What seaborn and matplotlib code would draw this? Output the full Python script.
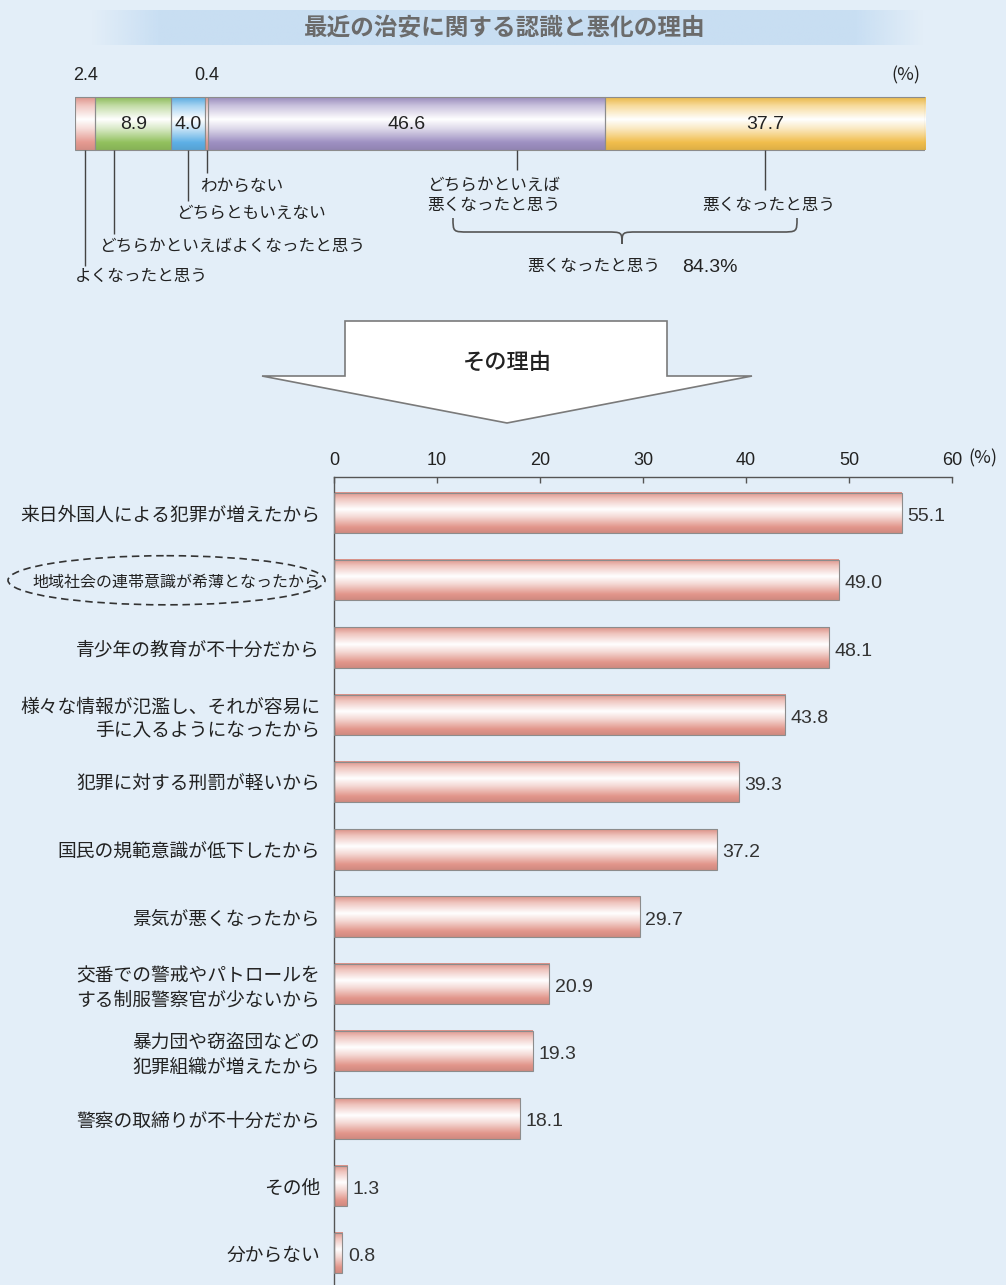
import numpy as np
import matplotlib
matplotlib.use("Agg")
import matplotlib.pyplot as plt
from matplotlib.colors import to_rgb
from matplotlib.patches import Ellipse, Polygon, PathPatch
from matplotlib.path import Path
import seaborn as sns

# ---- data -------------------------------------------------------------
perception_labels = [
    "よくなったと思う",
    "どちらかといえばよくなったと思う",
    "どちらともいえない",
    "わからない",
    "どちらかといえば\n悪くなったと思う",
    "悪くなったと思う",
]
perception_values = [2.4, 8.9, 4.0, 0.4, 46.6, 37.7]
perception_colors = ["#e59a91", "#92c15e", "#5eb0e6", "#e59a91", "#9e90c2", "#f1be4c"]
worse_group = [4, 5]  # segments summed under the brace
worse_group_label = "悪くなったと思う"

reason_labels = [
    "来日外国人による犯罪が増えたから",
    "地域社会の連帯意識が希薄となったから",
    "青少年の教育が不十分だから",
    "様々な情報が氾濫し、それが容易に\n手に入るようになったから",
    "犯罪に対する刑罰が軽いから",
    "国民の規範意識が低下したから",
    "景気が悪くなったから",
    "交番での警戒やパトロールを\nする制服警察官が少ないから",
    "暴力団や窃盗団などの\n犯罪組織が増えたから",
    "警察の取締りが不十分だから",
    "その他",
    "分からない",
]
reason_values = [55.1, 49.0, 48.1, 43.8, 39.3, 37.2, 29.7, 20.9, 19.3, 18.1, 1.3, 0.8]
highlight_index = 1
x_ticks = [0, 10, 20, 30, 40, 50, 60]

title_text = "最近の治安に関する認識と悪化の理由"
arrow_text = "その理由"

# ---- style ------------------------------------------------------------
sns.set_theme(style="white")
plt.rcParams["font.family"] = ["Noto Sans CJK JP", "DejaVu Sans"]
BG = "#e3eef8"
TXT = "#222222"
NUM_FONT = ["Liberation Sans", "DejaVu Sans"]

W, H = 1006, 1285
fig = plt.figure(figsize=(W / 100, H / 100), dpi=100, facecolor=BG)


def gloss(ax, x0, x1, y_top, y_bot, base, zorder=2):
    """Fill a rectangle with a glossy band: colour at the edges, white near the middle."""
    c = np.array(to_rgb(base))
    w = np.ones(3)
    stops = [
        (0.00, c * 0.97),
        (0.16, 0.55 * c + 0.45 * w),
        (0.42, w),
        (0.60, 0.65 * w + 0.35 * c),
        (0.86, c),
        (1.00, c * 0.92),
    ]
    t = np.linspace(0, 1, 80)
    pos = [s for s, _ in stops]
    img = np.stack([np.interp(t, pos, [col[k] for _, col in stops]) for k in range(3)], axis=-1)
    img = np.clip(img, 0, 1)[:, None, :]
    ax.imshow(img, extent=(x0, x1, y_bot, y_top), origin="upper", aspect="auto",
              interpolation="bilinear", zorder=zorder)


# ---- overlay in pixel coordinates (title band, arrow, brace) -----------
ov = fig.add_axes([0, 0, 1, 1], zorder=0)
ov.set_facecolor("none")
ov.axis("off")

band = np.zeros((1, 200, 4))
band[..., :3] = to_rgb("#c4dcf2")
xs = np.linspace(0, 1, 200)
band[0, :, 3] = np.clip(np.minimum(xs / 0.08, (1 - xs) / 0.08), 0, 1) * 0.85
ov.imshow(band, extent=(90, 925, 45, 10), aspect="auto", interpolation="bilinear", zorder=1)
ov.text(505, 27, title_text, ha="center", va="center", fontsize=17,
        fontweight="bold", color="#6b6b6b", zorder=2)

arrow_pts = [(345, 321), (667, 321), (667, 376), (752, 376), (507, 423), (262, 376), (345, 376)]
ov.add_patch(Polygon(arrow_pts, closed=True, facecolor="white", edgecolor="#7a7a7a",
                     linewidth=1.2, zorder=2))
ov.text(507, 362, arrow_text, ha="center", va="center", fontsize=16, color=TXT,
        fontweight="medium", zorder=3)

# curly brace under the two "worse" segments
x0b, x1b, xm, ytop, ymid, ytip = 453, 797, 622, 218, 232, 244
verts = [
    (x0b, ytop), (x0b, ymid), (x0b, ymid), (x0b + 16, ymid),
    (xm - 16, ymid),
    (xm, ymid), (xm, ymid), (xm, ytip),
    (xm, ymid), (xm, ymid), (xm + 16, ymid),
    (x1b - 16, ymid),
    (x1b, ymid), (x1b, ymid), (x1b, ytop),
]
codes = [Path.MOVETO, Path.CURVE4, Path.CURVE4, Path.CURVE4,
         Path.LINETO,
         Path.CURVE4, Path.CURVE4, Path.CURVE4,
         Path.CURVE4, Path.CURVE4, Path.CURVE4,
         Path.LINETO,
         Path.CURVE4, Path.CURVE4, Path.CURVE4]
ov.add_patch(PathPatch(Path(verts, codes), facecolor="none", edgecolor="#555555",
                       linewidth=1.2, zorder=2))
worse_total = round(sum(perception_values[i] for i in worse_group), 1)
ov.text(660, 266, worse_group_label, ha="right", va="center", fontsize=12, color=TXT, zorder=2)
ov.text(682, 267, f"{worse_total:.1f}%", ha="left", va="center", fontsize=14,
        color=TXT, family=NUM_FONT, zorder=2)
ov.text(906, 75, "(%)", ha="center", va="center", fontsize=13, color=TXT, zorder=2)
ov.text(968, 458, "(%)", ha="left", va="center", fontsize=13, color=TXT, zorder=2)

ov.set_xlim(0, W)
ov.set_ylim(H, 0)

# ---- stacked bar: overall perception ----------------------------------
px_l, px_r, px_t, px_b = 75, 925, 60, 290
axt = fig.add_axes([px_l / W, 1 - px_b / H, (px_r - px_l) / W, (px_b - px_t) / H], zorder=2)
axt.set_facecolor("none")
axt.axis("off")
px_per_pct = (px_r - px_l) / 100.0

lefts = np.concatenate([[0], np.cumsum(perception_values)[:-1]])
bar_y, bar_h = 123.5, 53
bars = axt.barh([bar_y] * len(perception_values), perception_values, left=lefts,
                height=bar_h, facecolor="none", edgecolor="#8c8c8c", linewidth=0.8, zorder=3)
for b, col in zip(bars, perception_colors):
    gloss(axt, b.get_x(), b.get_x() + b.get_width(), b.get_y(), b.get_y() + b.get_height(), col)

# value labels: inside wide segments, above the narrow ones
for i, (lft, v) in enumerate(zip(lefts, perception_values)):
    mid = lft + v / 2
    if v >= 3:
        axt.text(mid, bar_y + 1, f"{v:.1f}", ha="center", va="center", fontsize=14,
                 color=TXT, family=NUM_FONT, zorder=4)
    else:
        axt.text(mid, 75, f"{v:.1f}", ha="center", va="center", fontsize=13,
                 color=TXT, family=NUM_FONT, zorder=4)

# leader lines and category names
leaders = [  # (position within segment, line end y, text dx px, text y, align)
    (0.50, 266, -10, 276, "left"),
    (0.25, 234, -15, 246, "left"),
    (0.50, 201, -12, 213, "left"),
    (0.50, 173, -7, 186, "left"),
    (0.78, 170, -90, 195, "left"),
    (0.50, 190, 4, 205, "center"),
]
bar_bottom = bar_y + bar_h / 2
for (frac, yend, dx, ty, ha), lft, v, lab in zip(leaders, lefts, perception_values, perception_labels):
    xl = lft + frac * v
    axt.plot([xl, xl], [bar_bottom, yend], color="#444444", linewidth=1.0, zorder=3,
             solid_capstyle="butt")
    axt.text(xl + dx / px_per_pct, ty, lab, ha=ha, va="center", fontsize=12,
             color=TXT, linespacing=1.25, zorder=4)

axt.set_xlim(0, 100)
axt.set_ylim(px_b, px_t)

# ---- horizontal bars: reasons -----------------------------------------
m_l, m_r, m_t = 334, 952, 477
ax = fig.add_axes([m_l / W, 0, (m_r - m_l) / W, (H - m_t) / H], zorder=3)
ax.set_facecolor("none")
sns.barplot(x=reason_values, y=reason_labels, orient="h", width=0.6, color="#e2968b",
            edgecolor="#8c8c8c", linewidth=0.8, ax=ax, zorder=3)
for p in ax.patches:
    p.set_facecolor("none")
    p.set_zorder(3)
    gloss(ax, p.get_x(), p.get_x() + p.get_width(), p.get_y(), p.get_y() + p.get_height(),
          "#e2968b", zorder=2)

value_texts = ax.bar_label(ax.containers[0], labels=[f"{v:.1f}" for v in reason_values],
                           padding=4, fontsize=14, color="#333333", family=NUM_FONT)
for t in value_texts:
    t.xyann = (4, -2.5)

ax.set_xlim(0, 60)
ax.set_ylim(len(reason_values) - 1 + 0.475, -0.535)
ax.set_xlabel("")
ax.set_ylabel("")
ax.xaxis.tick_top()
ax.set_xticks(x_ticks)
ax.set_xticklabels([str(t) for t in x_ticks], family=NUM_FONT)
ax.tick_params(axis="x", direction="in", length=4.5, width=1, color="#555555",
               labelsize=13, labelcolor=TXT, pad=6)
ax.tick_params(axis="y", which="major", length=0, pad=10, labelsize=13.5, labelcolor=TXT)
ax.set_yticks(np.arange(0.5, len(reason_values) - 1, 1), minor=True)
ax.tick_params(axis="y", which="minor", direction="in", length=4.5, width=1, color="#555555")
for side in ["right", "bottom"]:
    ax.spines[side].set_visible(False)
for side in ["top", "left"]:
    ax.spines[side].set_visible(True)
    ax.spines[side].set_color("#555555")
    ax.spines[side].set_linewidth(1.0)
ax.grid(False)

ylabels = ax.get_yticklabels()
ylabels[highlight_index].set_fontsize(11.5)
ax.add_patch(Ellipse((-0.271, highlight_index), width=0.513, height=0.73,
                     transform=ax.get_yaxis_transform(), fill=False, edgecolor="#333333",
                     linewidth=1.2, linestyle=(0, (4.5, 2.8)), clip_on=False, zorder=4))

fig.savefig("out.png", dpi=100, facecolor=BG)
